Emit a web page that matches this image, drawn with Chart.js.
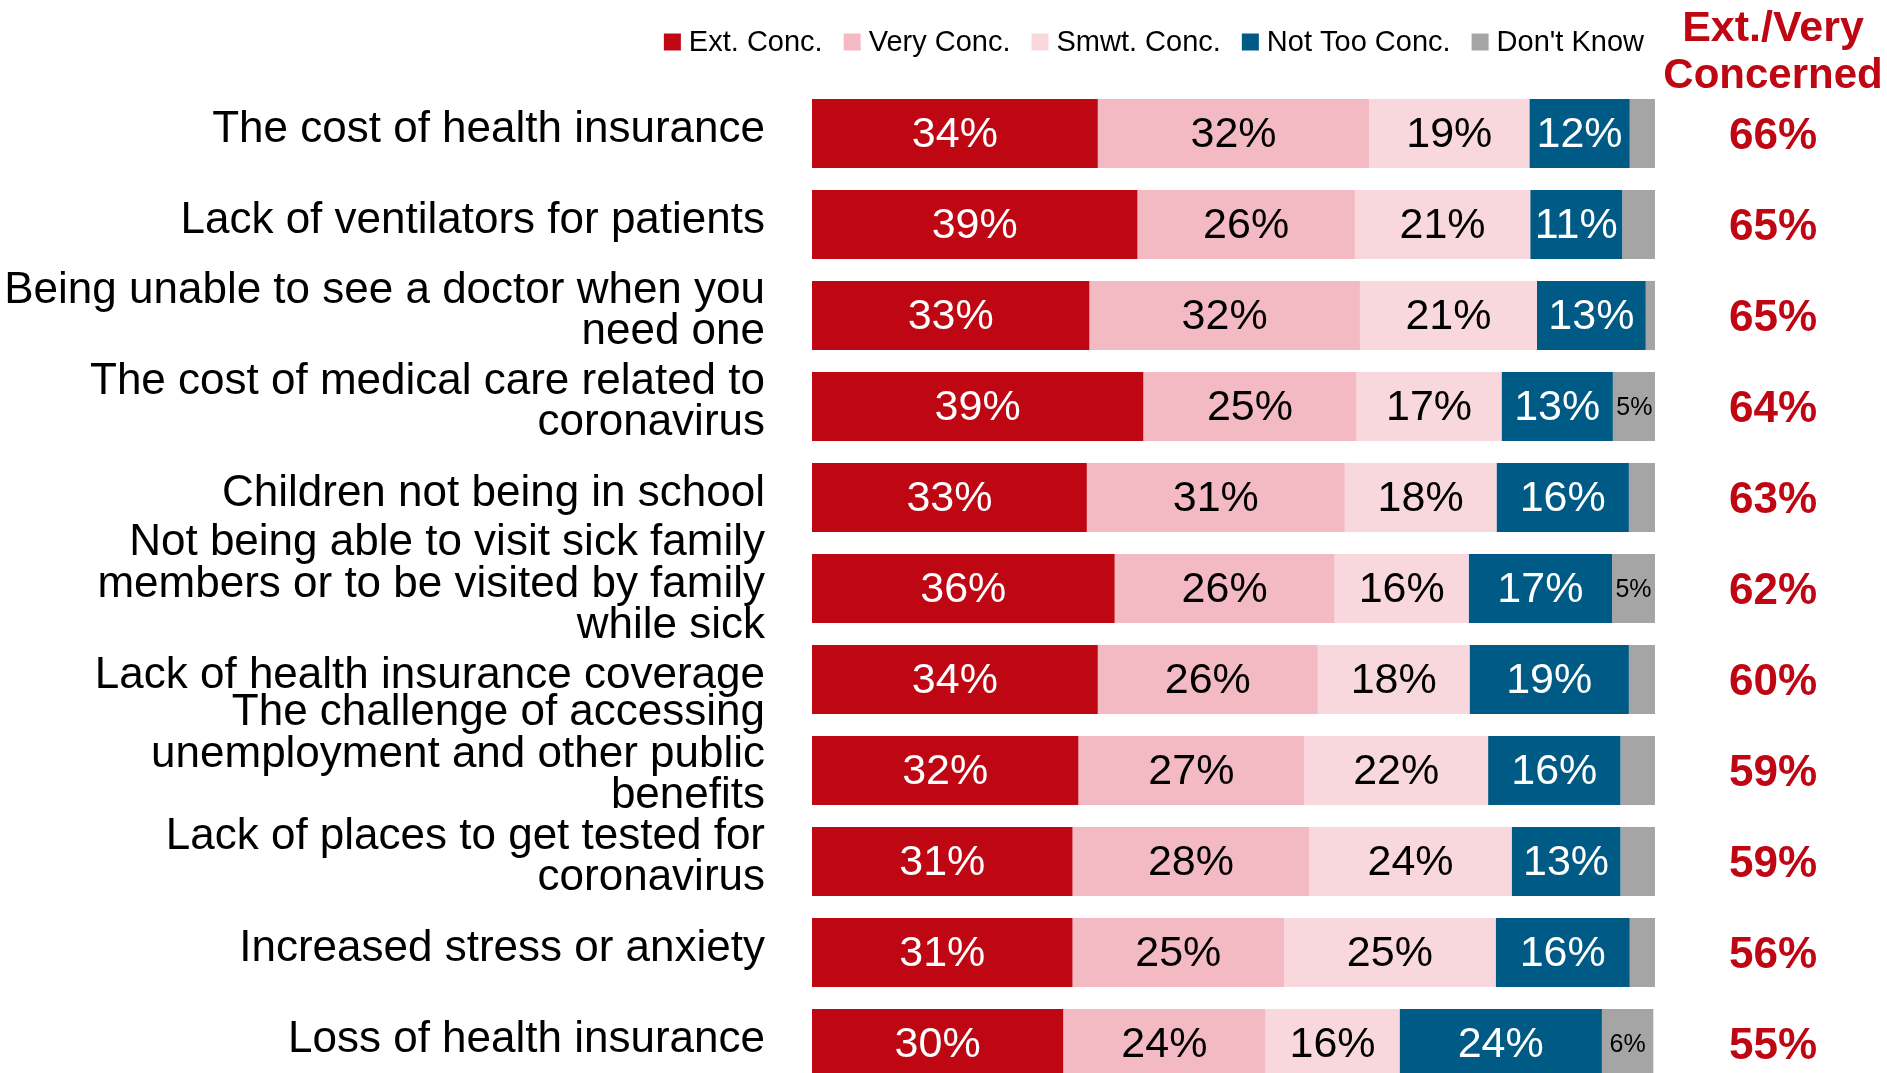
<!DOCTYPE html>
<html>
<head>
<meta charset="utf-8">
<script src="https://cdn.jsdelivr.net/npm/chart.js@4/dist/chart.umd.min.js"></script>
<style>
  html, body { margin: 0; padding: 0; background: #fff; overflow: hidden; }
  #wrap { width: 1887px; height: 1089px; }
</style>
</head>
<body>
<div id="wrap"><canvas id="chart" width="1887" height="1089"></canvas></div>
<script>
// categories (top to bottom)
const categories = [
  "The cost of health insurance",
  "Lack of ventilators for patients",
  ["Being unable to see a doctor when you", "need one"],
  ["The cost of medical care related to", "coronavirus"],
  "Children not being in school",
  ["Not being able to visit sick family", "members or to be visited by family", "while sick"],
  "Lack of health insurance coverage",
  ["The challenge of accessing", "unemployment and other public", "benefits"],
  ["Lack of places to get tested for", "coronavirus"],
  "Increased stress or anxiety",
  "Loss of health insurance"
];

// series values (%)
const extConc   = [33.9, 38.6, 32.9, 39.3, 32.6, 35.9, 33.9, 31.6, 30.9, 30.9, 29.8];
const veryConc  = [32.2, 25.8, 32.1, 25.3, 30.6, 26.1, 26.1, 26.8, 28.1, 25.1, 24.0];
const smwtConc  = [19.0, 20.8, 21.0, 17.2, 18.0, 15.9, 18.0, 21.8, 24.0, 25.1, 15.9];
const notTooConc = [11.9, 10.9, 12.9, 13.2, 15.7, 17.0, 18.9, 15.7, 12.9, 15.9, 24.0];
const dontKnow  = [3.1, 3.9, 1.1, 5.1, 3.1, 5.1, 3.1, 4.1, 4.1, 3.1, 6.1];

// right column: Ext./Very Concerned totals
const extVeryTotals = [66, 65, 65, 64, 63, 62, 60, 59, 59, 56, 55];

const FONT = '"Liberation Sans", Arial, sans-serif';
const RED = "#BF0613";

const seriesNames = ["Ext. Conc.", "Very Conc.", "Smwt. Conc.", "Not Too Conc.", "Don't Know"];
const seriesColors = ["#BF0613", "#F4BAC4", "#F9D8DD", "#005A86", "#A5A5A5"];
const labelColors = ["#fff", "#000", "#000", "#fff", "#000"];

// the 3-line "challenge" label sits a bit higher in the original
const nudgeLabels = {
  id: "nudgeLabels",
  beforeDraw(chart) {
    const items = chart.scales.y.getLabelItems();
    if (items[7] && !items[7]._nudged) {
      items[7].options.translation[1] -= 12;
      items[7]._nudged = true;
    }
  }
};

// value labels inside the bars
const barLabels = {
  id: "barLabels",
  afterDatasetsDraw(chart) {
    const ctx = chart.ctx;
    ctx.save();
    ctx.textAlign = "center";
    ctx.textBaseline = "middle";
    chart.data.datasets.forEach((ds, di) => {
      const meta = chart.getDatasetMeta(di);
      meta.data.forEach((bar, i) => {
        const v = Math.round(ds.data[i]);
        const small = di === 4;
        if (small && v < 5) return;
        ctx.font = (small ? "25px " : "43px ") + FONT;
        ctx.fillStyle = labelColors[di];
        ctx.fillText(v + "%", (bar.x + bar.base) / 2, bar.y + 2);
      });
    });
    ctx.restore();
  }
};

// legend row + right-hand column
const extras = {
  id: "extras",
  afterDraw(chart) {
    const ctx = chart.ctx;
    ctx.save();

    // legend, right aligned to the end of the bars
    ctx.font = "29px " + FONT;
    ctx.textBaseline = "middle";
    ctx.textAlign = "left";
    const box = 17, gap = 8, itemGap = 21;
    const widths = seriesNames.map(n => ctx.measureText(n).width);
    let total = widths.reduce((a, w) => a + box + gap + w, 0) + itemGap * (seriesNames.length - 1);
    let x = chart.chartArea.right - 11 - total;
    const ly = 42;
    seriesNames.forEach((n, i) => {
      ctx.fillStyle = seriesColors[i];
      ctx.fillRect(x, ly - box / 2, box, box);
      ctx.fillStyle = "#000";
      ctx.fillText(n, x + box + gap, ly + 1);
      x += box + gap + widths[i] + itemGap;
    });

    // header of right column
    const cx = 1773;
    ctx.textAlign = "center";
    ctx.fillStyle = RED;
    ctx.font = "bold 43px " + FONT;
    ctx.fillText("Ext./Very", cx, 29);
    ctx.font = "bold 42px " + FONT;
    ctx.fillText("Concerned", cx, 76);

    // totals
    ctx.font = "bold 44px " + FONT;
    const yScale = chart.scales.y;
    extVeryTotals.forEach((v, i) => {
      ctx.fillText(v + "%", cx, yScale.getPixelForValue(i) + 3);
    });
    ctx.restore();
  }
};

const datasets = [extConc, veryConc, smwtConc, notTooConc, dontKnow].map((d, i) => ({
  label: seriesNames[i],
  data: d,
  backgroundColor: seriesColors[i],
  borderWidth: 0,
  barPercentage: 1,
  categoryPercentage: 0.76
}));

new Chart(document.getElementById("chart"), {
  type: "bar",
  data: { labels: categories, datasets: datasets },
  options: {
    indexAxis: "y",
    responsive: false,
    animation: false,
    layout: { padding: { top: 88, right: 232, bottom: 0, left: 0 } },
    plugins: {
      legend: { display: false },
      tooltip: { enabled: false }
    },
    scales: {
      x: { stacked: true, min: 0, max: 100, display: false },
      y: {
        stacked: true,
        grid: { display: false, drawTicks: false },
        border: { display: false },
        afterFit: (scale) => {
          scale.width = 812;
          scale.paddingTop = 0;
          scale.paddingBottom = 0;
        },
        ticks: {
          autoSkip: false,
          padding: 47,
          labelOffset: -4,
          color: "#000",
          font: { family: FONT, size: 44, lineHeight: 0.94 }
        }
      }
    }
  },
  plugins: [nudgeLabels, barLabels, extras]
});
</script>
</body>
</html>
